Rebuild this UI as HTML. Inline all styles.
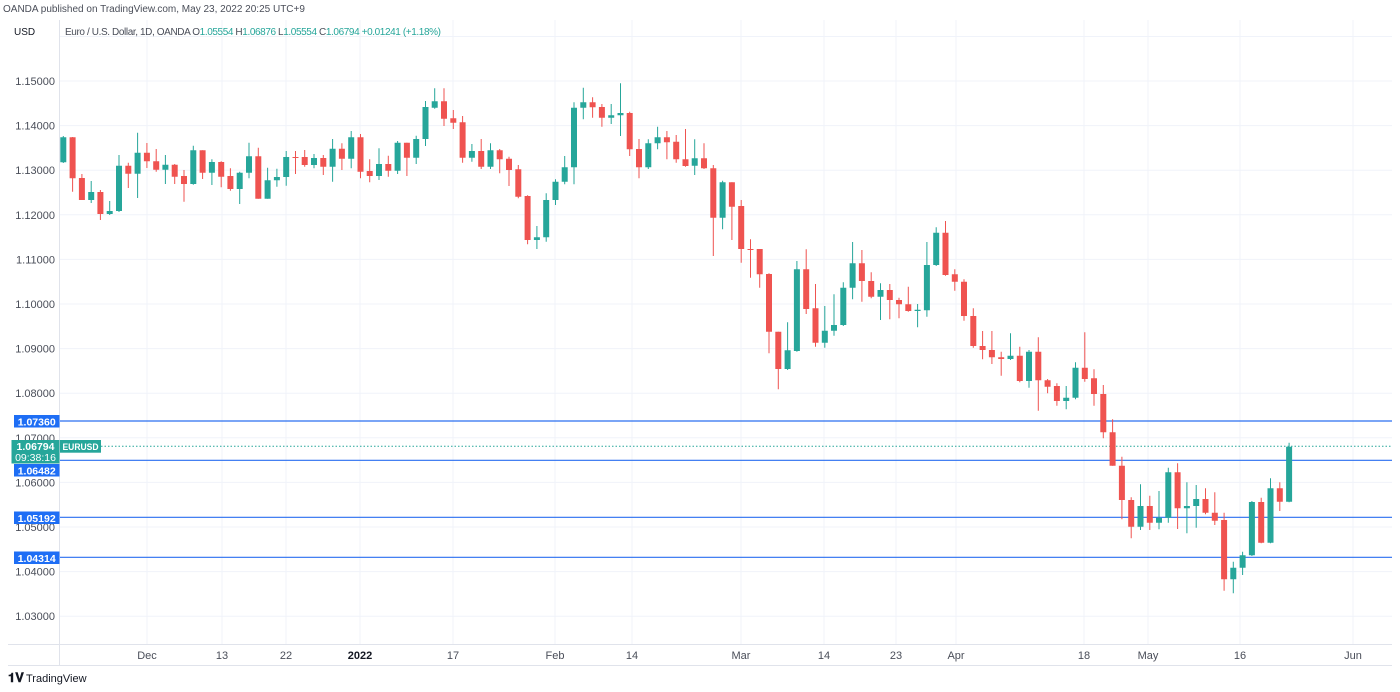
<!DOCTYPE html>
<html><head><meta charset="utf-8"><style>
html,body{margin:0;padding:0;background:#fff;}
svg{display:block;font-family:"Liberation Sans",sans-serif;}
</style></head><body>
<svg width="1400" height="692" viewBox="0 0 1400 692" xmlns="http://www.w3.org/2000/svg">
<rect width="1400" height="692" fill="#fff"/>
<text x="3" y="12" font-size="10" fill="#4a4e59">OANDA published on TradingView.com, May 23, 2022 20:25 UTC+9</text>
<g stroke="#f0f3fa" stroke-width="1">
<path d="M60 36.5H1392M60 81H1392M60 125.6H1392M60 170.2H1392M60 214.8H1392M60 259.4H1392M60 304H1392M60 348.6H1392M60 393.2H1392M60 437.8H1392M60 482.4H1392M60 527H1392M60 571.6H1392M60 616.2H1392"/>
<path d="M147 20V644M222 20V644M286 20V644M360 20V644M453 20V644M555 20V644M632 20V644M741 20V644M824 20V644M896 20V644M956 20V644M1084 20V644M1148 20V644M1240 20V644M1353 20V644"/>
</g>
<g stroke="#e0e3eb" stroke-width="1" fill="none">
<path d="M59.5 20V665M8 644.5H1392M8 665.5H1392"/>
</g>
<g font-size="11" fill="#4a4e59" text-anchor="end">
<text x="55" y="85">1.15000</text><text x="55" y="129.6">1.14000</text><text x="55" y="174.2">1.13000</text><text x="55" y="218.8">1.12000</text><text x="55" y="263.4">1.11000</text><text x="55" y="308">1.10000</text><text x="55" y="352.6">1.09000</text><text x="55" y="397.2">1.08000</text><text x="55" y="441.8">1.07000</text><text x="55" y="486.4">1.06000</text><text x="55" y="531">1.05000</text><text x="55" y="575.6">1.04000</text><text x="55" y="620.2">1.03000</text>
</g>
<g font-size="11" fill="#4a4e59" text-anchor="middle">
<text x="147" y="659">Dec</text><text x="222" y="659">13</text><text x="286" y="659">22</text><text x="360" y="659" font-weight="bold" fill="#131722">2022</text><text x="453" y="659">17</text><text x="555" y="659">Feb</text><text x="632" y="659">14</text><text x="741" y="659">Mar</text><text x="824" y="659">14</text><text x="896" y="659">23</text><text x="956" y="659">Apr</text><text x="1084" y="659">18</text><text x="1148" y="659">May</text><text x="1240" y="659">16</text><text x="1353" y="659">Jun</text>
</g>
<g stroke="#2a6ff0" stroke-width="1.2">
<path d="M60 421H1392M60 460.3H1392M60 517.3H1392M60 557.3H1392"/>
</g>
<path d="M101 446.3H1392" stroke="#26a69a" stroke-width="1" stroke-dasharray="1.5 2"/>
<g stroke="#26a69a" stroke-width="1" fill="none">
<path d="M63.3 136V163M91.2 181V203M109.7 201V215M119 155V212M137.6 132.7V198M165.4 155V184M193.3 145.7V184.7M211.9 159.3V185M239.7 171.7V204M249 142.7V178.3M267.6 167.7V198.7M276.9 168.7V186.7M286.2 151V185.7M314 154V168.3M332.6 139V181.7M351.2 131V168.3M379 148.3V180M397.6 141V174M416.2 135.7V164M425.5 101V146M434.7 88.3V108.7M471.9 144V161.7M490.5 143.3V169M536.9 226V249M546.2 193.3V241.7M555.5 179.3V205M564.7 156V184.3M574 102.3V184.3M583.3 87.7V119.3M611.2 104V124M620.5 83.3V136M648.3 139.3V169M657.6 126.7V149.3M694.7 139.3V175M722.6 180.7V229.3M787.6 322.3V370M796.9 261V351.7M824.8 306V347.7M834 294.3V335.7M843.3 282.3V326M852.6 242V299.3M880.5 283.3V320M917.6 304V327.3M926.9 242V316.7M936.2 227.3V266M1010.5 333.3V360M1029 350V387.7M1066.2 386V409.3M1075.5 362.3V399.3M1140.5 484.3V530M1159 491V529.3M1168.3 467.7V522.7M1186.9 482.3V533.3M1196.2 485V527.7M1233.3 561.7V593.3M1242.6 551.7V575M1251.9 501V556M1270.5 478.3V543.3M1289.1 442.7V502.3"/>
</g>
<path fill="#26a69a" d="M60.3 137.3h6V162.3h-6zM88.2 192h6V200h-6zM106.7 211h6V214h-6zM116 165.7h6V211h-6zM134.6 152.7h6V173.7h-6zM162.4 164.7h6V169.7h-6zM190.3 150.3h6V184h-6zM208.9 162h6V172.7h-6zM236.7 172.7h6V189h-6zM246 156.3h6V172.7h-6zM264.6 180.3h6V198.7h-6zM273.9 177h6V180.3h-6zM283.2 157h6V177h-6zM311 158h6V165h-6zM329.6 148.7h6V166.7h-6zM348.2 137.3h6V158.7h-6zM376 164h6V176h-6zM394.6 142.7h6V170.7h-6zM413.2 139h6V157.7h-6zM422.5 107h6V139h-6zM431.7 101.3h6V107.7h-6zM468.9 151h6V157.7h-6zM487.5 150.3h6V166.7h-6zM533.9 237.3h6V240h-6zM543.2 200h6V237.3h-6zM552.5 181.7h6V200h-6zM561.7 167.3h6V181.7h-6zM571 107.7h6V167.3h-6zM580.3 102.3h6V107.7h-6zM608.2 115.3h6V117.7h-6zM617.5 113h6V115.3h-6zM645.3 143.3h6V167.3h-6zM654.6 137.3h6V143.3h-6zM691.7 158.3h6V165.7h-6zM719.6 182.3h6V217.7h-6zM784.6 350.3h6V369h-6zM793.9 269.3h6V351h-6zM821.8 330.7h6V342.7h-6zM831 325h6V330.7h-6zM840.3 287.7h6V325h-6zM849.6 263.3h6V287.7h-6zM877.5 290h6V296.7h-6zM914.6 309.8h6V311h-6zM923.9 265h6V310.3h-6zM933.2 232.7h6V265h-6zM1007.5 355.7h6V359h-6zM1026 351.7h6V381h-6zM1063.2 397.7h6V401h-6zM1072.5 367.7h6V397.7h-6zM1137.5 506h6V526.7h-6zM1156 517.7h6V522.7h-6zM1165.3 472.3h6V517.7h-6zM1183.9 506h6V508.3h-6zM1193.2 499h6V506h-6zM1230.3 567.7h6V579.3h-6zM1239.6 555.3h6V567.7h-6zM1248.9 502h6V555.3h-6zM1267.5 488.3h6V542.7h-6zM1286.1 446.7h6V501.7h-6z"/>
<g stroke="#ef5350" stroke-width="1" fill="none">
<path d="M72.6 137V191.7M81.9 174V200M100.4 190V220M128.3 162.7V188M146.9 143V168M156.2 149V171.7M174.7 164V184M184 170V201.7M202.6 150.3V179M221.2 161.3V187.3M230.4 168.3V190.7M258.3 147.7V198.7M295.5 151V174M304.7 150V166.7M323.3 155V175M341.9 143.3V170M360.5 134V178.3M369.7 159.3V182.3M388.3 155.7V176.7M406.9 142.7V176M444 88.3V126M453.3 110V129M462.6 116V162.7M481.2 139V169M499.7 149V173.3M509 156.7V186M518.3 165V198.3M527.6 195.3V244.3M592.6 97.3V117.7M601.9 104V126.7M629.7 111.7V156M639 139V178.3M666.9 131V159.3M676.2 135V162.7M685.5 129V166.7M704 143.3V169M713.3 165V256M731.9 182.3V240M741.2 200V262.7M750.5 239.3V277.7M759.7 249V287.7M769 273.3V353.3M778.3 331.7V389.3M806.2 249.3V314M815.5 284V346.7M861.9 250V301.7M871.2 272.3V298.3M889.8 284V319.3M899 297.7V318.3M908.3 286.7V311.7M945.5 221V275.7M954.8 269.3V290.7M964 279.3V320.7M973.3 308.3V347.7M982.6 331V359.3M991.9 331V364M1001.2 351.7V375.7M1019.8 346.7V382.3M1038.3 337.3V410.7M1047.6 379V393.3M1056.9 383.3V405.7M1084.8 332.3V381.7M1094 369.3V405.7M1103.3 385V438.3M1112.6 419.3V465.7M1121.9 456.7V519.3M1131.2 497.3V538.3M1149.8 495.7V530M1177.6 463.3V529M1205.5 488.3V514.3M1214.8 492.3V525M1224.1 512.7V590.7M1261.2 497.7V543.3M1279.8 482.3V511"/>
</g>
<path fill="#ef5350" d="M69.6 137.3h6V178.3h-6zM78.9 178h6V200h-6zM97.4 192h6V214h-6zM125.3 165.7h6V173.7h-6zM143.9 152.7h6V161.3h-6zM153.2 161.3h6V169.7h-6zM171.7 164.7h6V176.7h-6zM181 176h6V184h-6zM199.6 150.3h6V172.7h-6zM218.2 162h6V176.7h-6zM227.4 176h6V189h-6zM255.3 156.3h6V198.7h-6zM292.5 157h6V158h-6zM301.7 157h6V165h-6zM320.3 158h6V166.7h-6zM338.9 148.7h6V158.7h-6zM357.5 137.3h6V171.7h-6zM366.7 171h6V176h-6zM385.3 164h6V170.7h-6zM403.9 142.7h6V157.7h-6zM441 101.3h6V118.7h-6zM450.3 118.3h6V122.7h-6zM459.6 122.3h6V157.7h-6zM478.2 151h6V166.7h-6zM496.7 150.3h6V159.3h-6zM506 158.7h6V170h-6zM515.3 169.3h6V196.7h-6zM524.6 196h6V240h-6zM589.6 102.3h6V107.3h-6zM598.9 107h6V117.7h-6zM626.7 113h6V149.3h-6zM636 149h6V167.3h-6zM663.9 137.3h6V142.3h-6zM673.2 141.7h6V159.3h-6zM682.5 159.3h6V166h-6zM701 158.3h6V168.3h-6zM710.3 168.3h6V217.7h-6zM728.9 182.3h6V206.7h-6zM738.2 206h6V249h-6zM747.5 249h6V250h-6zM756.7 249h6V274.3h-6zM766 274h6V331.7h-6zM775.3 331.7h6V369h-6zM803.2 269.3h6V309h-6zM812.5 308.3h6V342.7h-6zM858.9 263.3h6V281h-6zM868.2 281h6V296.7h-6zM886.8 290h6V300h-6zM896 300h6V304.3h-6zM905.3 304.3h6V311h-6zM942.5 232.7h6V275h-6zM951.8 274.3h6V281.7h-6zM961 281.7h6V316h-6zM970.3 316h6V346h-6zM979.6 346h6V350h-6zM988.9 350h6V357.3h-6zM998.2 357.3h6V359h-6zM1016.8 355.7h6V381h-6zM1035.3 351.7h6V380.3h-6zM1044.6 380.3h6V386.7h-6zM1053.9 386h6V401h-6zM1081.8 367.7h6V379h-6zM1091 378.3h6V394h-6zM1100.3 394h6V432.3h-6zM1109.6 432.3h6V465.7h-6zM1118.9 465.7h6V500h-6zM1128.2 500h6V526.7h-6zM1146.8 506h6V522.7h-6zM1174.6 472.3h6V508.3h-6zM1202.5 499h6V512.7h-6zM1211.8 512.7h6V520.7h-6zM1221.1 520h6V579.3h-6zM1258.2 502h6V542.7h-6zM1276.8 488.3h6V501.7h-6z"/>
<rect x="0" y="20" width="59" height="24" fill="#fff"/>
<text x="14" y="35" font-size="10" fill="#131722">USD</text>
<text x="65" y="35" font-size="10" fill="#4a4e59" textLength="376" lengthAdjust="spacing">Euro / U.S. Dollar, 1D, OANDA  O<tspan fill="#26a69a">1.05554</tspan>  H<tspan fill="#26a69a">1.06876</tspan>  L<tspan fill="#26a69a">1.05554</tspan>  C<tspan fill="#26a69a">1.06794</tspan>  <tspan fill="#26a69a">+0.01241 (+1.18%)</tspan></text>
<g font-size="10.5" fill="#fff" font-weight="bold" text-anchor="middle">
<rect x="14" y="415" width="45.5" height="12.5" fill="#1e6ef5"/><text x="36.7" y="425.3">1.07360</text>
<rect x="14" y="464" width="45.5" height="12.5" fill="#1e6ef5"/><text x="36.7" y="474.3">1.06482</text>
<rect x="14" y="511.5" width="45.5" height="12.5" fill="#1e6ef5"/><text x="36.7" y="521.8">1.05192</text>
<rect x="14" y="551.5" width="45.5" height="12.5" fill="#1e6ef5"/><text x="36.7" y="561.8">1.04314</text>
<rect x="11.5" y="440" width="48" height="23.5" fill="#26a69a"/><text x="35.5" y="450">1.06794</text><text x="35.5" y="461" font-weight="normal">09:38:16</text>
<rect x="60" y="440" width="41" height="12.7" fill="#26a69a"/><text x="80.5" y="450" font-size="9.5" textLength="36" lengthAdjust="spacingAndGlyphs">EURUSD</text>
</g>
<text x="8" y="682" font-size="13" font-weight="bold" fill="#131722">𝟏𝐕</text>
<text x="26" y="682" font-size="11" fill="#131722">TradingView</text>
</svg>
</body></html>
